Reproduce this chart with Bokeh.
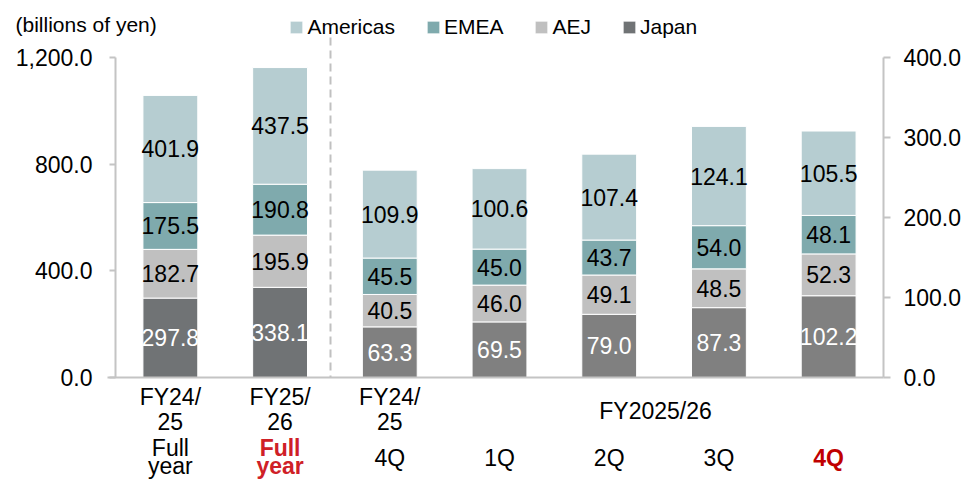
from bokeh.plotting import figure
from bokeh.models import (Range1d, LinearAxis, FixedTicker, NumeralTickFormatter,
                          Label, Legend, LegendItem, ColumnDataSource)
from bokeh.core.properties import value
from bokeh.embed import file_html
from bokeh.resources import INLINE

# ---------------- data ----------------
regions = ["Japan", "AEJ", "EMEA", "Americas"]          # stack order, bottom -> top
legend_order = ["Americas", "EMEA", "AEJ", "Japan"]

fy_x = [0, 1]                                            # full-year bars (left axis)
japan_fy = [297.8, 338.1]
aej_fy = [182.7, 195.9]
emea_fy = [175.5, 190.8]
americas_fy = [401.9, 437.5]

q_x = [2, 3, 4, 5, 6]                                    # quarterly bars (right axis)
japan_q = [63.3, 69.5, 79.0, 87.3, 102.2]
aej_q = [40.5, 46.0, 49.1, 48.5, 52.3]
emea_q = [45.5, 45.0, 43.7, 54.0, 48.1]
americas_q = [109.9, 100.6, 107.4, 124.1, 105.5]

left_ticks = [0, 400, 800, 1200]
right_ticks = [0, 100, 200, 300, 400]

cat_lines = [
    ["FY24/", "25", "Full", "year"],
    ["FY25/", "26", "Full", "year"],
    ["FY24/", "25", "4Q"],
    ["1Q"], ["2Q"], ["3Q"], ["4Q"],
]
group_label = "FY2025/26"
unit_label = "(billions of yen)"

# ---------------- style / geometry ----------------
FONT = "Liberation Sans"
C_AM = "#b6cdd1"
C_EM = "#7faaad"
C_AEJ = "#c0c0c0"
C_JP_FY = "#707375"
C_JP_Q = "#808080"
RED1 = "#cf2027"
RED2 = "#c00000"
AXIS_C = "#c4c4c4"

W, H = 965, 479
PX_L, PX_R = 115.0, 883.0          # pixel x of category range -0.5 .. 6.5
PY0, PY1 = 377.0, 57.0             # pixel y of 0 and 1200 (left scale)
xs = (PX_R - PX_L) / 7.0
ys = (PY0 - PY1) / 1200.0
x_lo = -0.5 - PX_L / xs
x_hi = 6.5 + (W - PX_R) / xs
y_lo = -(H - PY0) / ys
y_hi = PY0 / ys

def ydata(page_y):
    return (PY0 - page_y) / ys

def xdata(page_x):
    return -0.5 + (page_x - PX_L) / xs

p = figure(width=W, height=H, output_backend="svg", toolbar_location=None,
           x_range=Range1d(x_lo, x_hi), y_range=Range1d(y_lo, y_hi),
           min_border_left=0, min_border_right=0, min_border_top=0,
           min_border_bottom=0)
p.extra_y_ranges = {"right": Range1d(y_lo / 3.0, y_hi / 3.0)}
p.grid.visible = False
p.outline_line_color = None
p.background_fill_color = "white"
p.border_fill_color = "white"

def style_axis(a, tick_out, standoff):
    a.axis_line_color = AXIS_C
    a.axis_line_width = 2
    a.major_tick_line_color = AXIS_C
    a.major_tick_line_width = 2
    a.major_tick_out = tick_out
    a.major_tick_in = 0
    a.minor_tick_line_color = None
    a.major_label_standoff = standoff
    a.major_label_text_font = FONT
    a.major_label_text_font_size = "23px"
    a.major_label_text_color = "black"

# left axis
ya = p.yaxis[0]
ya.ticker = FixedTicker(ticks=left_ticks)
ya.formatter = NumeralTickFormatter(format="0,0.0")
ya.bounds = (0, 1200)
ya.fixed_location = -0.5
style_axis(ya, 6, 17)

# right axis
ra = LinearAxis(y_range_name="right", ticker=FixedTicker(ticks=right_ticks),
                formatter=NumeralTickFormatter(format="0,0.0"), bounds=(0, 400))
ra.fixed_location = 6.5
style_axis(ra, 7, 13)
p.add_layout(ra, "right")

# bottom axis (line only)
xa = p.xaxis[0]
xa.ticker = FixedTicker(ticks=[])
xa.fixed_location = 0
xa.bounds = (xdata(107), 6.5)
style_axis(xa, 0, 0)
xa.major_tick_line_color = None
xa.major_label_text_font_size = "0px"

# ---------------- bars ----------------
src_fy = ColumnDataSource(dict(x=fy_x, Japan=japan_fy, AEJ=aej_fy, EMEA=emea_fy,
                               Americas=americas_fy))
src_q = ColumnDataSource(dict(x=q_x, Japan=japan_q, AEJ=aej_q, EMEA=emea_q,
                              Americas=americas_q))

r_fy = p.vbar_stack(regions, x="x", width=0.5, source=src_fy,
                    color=[C_JP_FY, C_AEJ, C_EM, C_AM], line_color="white", line_width=1)
r_q = p.vbar_stack(regions, x="x", width=0.5, source=src_q, y_range_name="right",
                   color=[C_JP_Q, C_AEJ, C_EM, C_AM], line_color="white", line_width=1)

# dashed separator
p.segment(x0=[xdata(330)], y0=[ydata(37)], x1=[xdata(330)], y1=[0],
          line_color="#c0c0c0", line_width=2, line_dash="8 5")

# ---------------- value labels ----------------
def seg_labels(xv, series):
    lx, ly, lt, lc = [], [], [], []
    for i, x in enumerate(xv):
        base = 0.0
        for k, vals in enumerate(series):
            v = vals[i]
            lx.append(x)
            ly.append(base + v / 2.0)
            lt.append(f"{v:.1f}")
            lc.append("white" if k == 0 else "black")
            base += v
    return dict(x=lx, y=ly, text=lt, color=lc)

lab_fy = ColumnDataSource(seg_labels(fy_x, [japan_fy, aej_fy, emea_fy, americas_fy]))
lab_q = ColumnDataSource(seg_labels(q_x, [japan_q, aej_q, emea_q, americas_q]))
for src, rng in ((lab_fy, "default"), (lab_q, "right")):
    p.text(x="x", y="y", text="text", source=src, y_range_name=rng,
           text_color="color", text_align="center", text_baseline="middle",
           text_font=value(FONT), text_font_size="23px")

# ---------------- category labels ----------------
row_base = [396, 421, 447, 465]
q_base = 457
for i, lines in enumerate(cat_lines):
    n = len(lines)
    for j, t in enumerate(lines):
        if n == 1 or (n == 3 and j == 2):
            yb = q_base
        else:
            yb = row_base[j]
        color, style = "black", "normal"
        if i == 1 and j >= 2:
            color, style = RED1, "bold"
        if i == 6:
            color, style = RED2, "bold"
        p.add_layout(Label(x=i, y=ydata(yb), text=t, text_align="center",
                           text_baseline="alphabetic", text_font=FONT,
                           text_font_size="23px", text_color=color,
                           text_font_style=style))

p.add_layout(Label(x=xdata(655), y=ydata(410), text=group_label, text_align="center",
                   text_baseline="alphabetic", text_font=FONT, text_font_size="23px",
                   text_color="black"))

p.add_layout(Label(x=xdata(15), y=ydata(24), text=unit_label, text_align="left",
                   text_baseline="alphabetic", text_font=FONT, text_font_size="21px",
                   text_color="black"))

# ---------------- legend ----------------
name_to_r = dict(zip(regions, r_fy))
items = [LegendItem(label=n, renderers=[name_to_r[n]]) for n in legend_order]
legend = Legend(items=items, orientation="horizontal", location=(288.4, H - 39),
                glyph_width=16, glyph_height=16, label_standoff=3, spacing=30,
                padding=0, margin=0, border_line_color=None,
                background_fill_alpha=0, label_text_font=FONT,
                label_text_font_size="21px", label_text_color="black",
                label_height=20)
p.add_layout(legend, "center")

open("out.html", "w").write(file_html(p, INLINE))
